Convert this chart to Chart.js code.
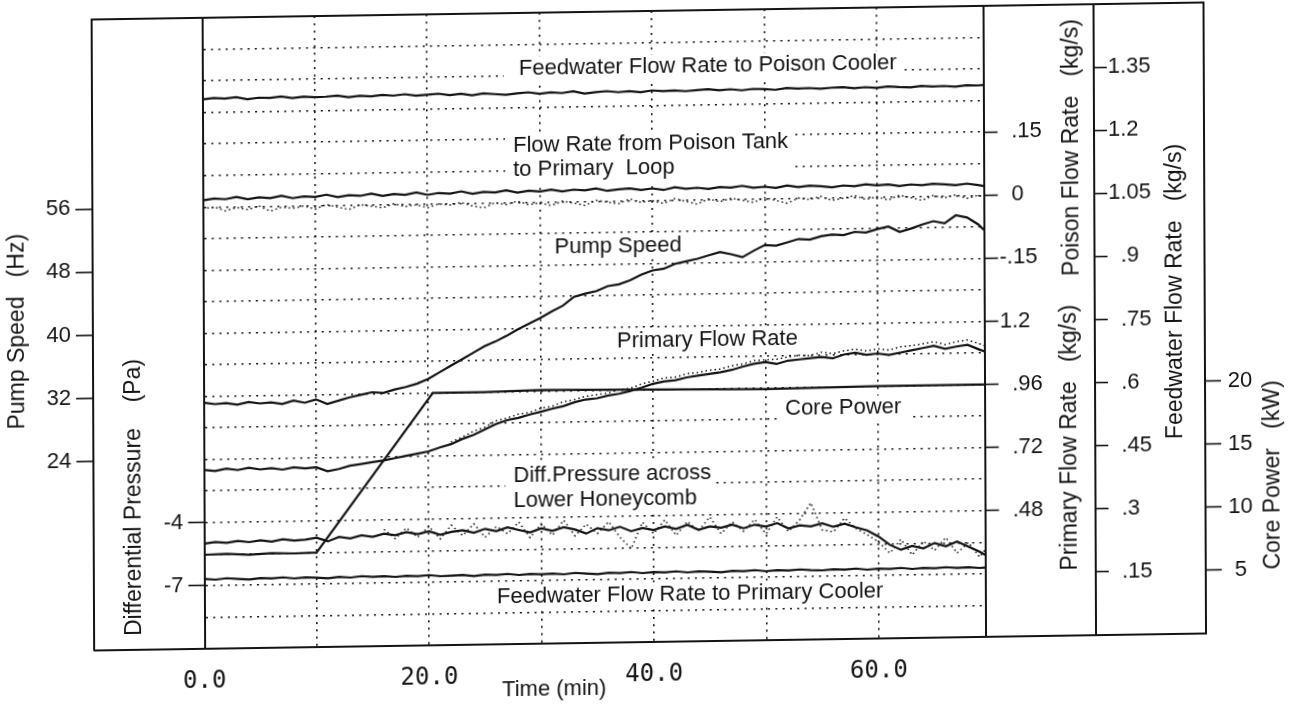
<!DOCTYPE html>
<html>
<head>
<meta charset="utf-8">
<title>Poison injection transient</title>
<script src="https://cdn.jsdelivr.net/npm/chart.js@4.4.1/dist/chart.umd.min.js"></script>
<style>
	html, body { margin: 0; padding: 0; background: #fff; }
	#wrap { position: relative; width: 1298px; height: 704px; overflow: hidden; }
	/* the sheet sits a little crooked */
	#plot { transform-origin: 649px 352px; transform: matrix(1, -0.0153, 0.004, 1, 0, 0); }
</style>
</head>
<body>
<div id="wrap"><canvas id="plot"></canvas></div>
<script>
// time base (min)
const minutes = [0, 1, 2, 3, 4, 5, 6, 7, 8, 9, 10, 11, 12, 13, 14, 15, 16, 17, 18, 19,
	20, 21, 22, 23, 24, 25, 26, 27, 28, 29, 30, 31, 32, 33, 34, 35, 36, 37, 38, 39,
	40, 41, 42, 43, 44, 45, 46, 47, 48, 49, 50, 51, 52, 53, 54, 55, 56, 57, 58, 59,
	60, 61, 62, 63, 64, 65, 66, 67, 68, 69, 69.5];

// feedwater to poison cooler (kg/s)
const feedPoison = [1.306, 1.309, 1.307, 1.310, 1.305, 1.308, 1.307, 1.310, 1.306, 1.309,
	1.307, 1.308, 1.310, 1.306, 1.309, 1.307, 1.310, 1.308, 1.311, 1.307,
	1.309, 1.311, 1.307, 1.310, 1.306, 1.310, 1.308, 1.306, 1.309, 1.311,
	1.307, 1.310, 1.308, 1.312, 1.306, 1.309, 1.311, 1.308, 1.310, 1.307,
	1.311, 1.309, 1.310, 1.308, 1.310, 1.312, 1.309, 1.311, 1.308, 1.311,
	1.310, 1.308, 1.312, 1.310, 1.311, 1.309, 1.311, 1.312, 1.309, 1.311,
	1.309, 1.312, 1.310, 1.309, 1.312, 1.310, 1.311, 1.309, 1.312, 1.311, 1.312];

// poison tank -> primary loop (kg/s), trace and raw samples
const poisonFlow = [0.016, 0.020, 0.018, 0.023, 0.017, 0.021, 0.019, 0.024, 0.018, 0.022,
	0.020, 0.025, 0.019, 0.023, 0.021, 0.026, 0.020, 0.024, 0.022, 0.027,
	0.021, 0.025, 0.023, 0.028, 0.022, 0.026, 0.024, 0.029, 0.023, 0.027,
	0.025, 0.029, 0.024, 0.028, 0.026, 0.030, 0.024, 0.027, 0.029, 0.025,
	0.028, 0.024, 0.030, 0.026, 0.028, 0.025, 0.029, 0.027, 0.031, 0.026,
	0.028, 0.025, 0.030, 0.026, 0.029, 0.027, 0.024, 0.028, 0.026, 0.030,
	0.027, 0.029, 0.025, 0.028, 0.026, 0.029, 0.027, 0.025, 0.028, 0.024, 0.022];
const poisonRaw = [-0.004, 0.000, -0.010, -0.002, -0.008, 0.001, -0.012, -0.003, -0.006, -0.001,
	-0.009, 0.002, -0.005, -0.011, 0.000, -0.004, -0.008, 0.001, -0.006, -0.002,
	-0.010, -0.001, -0.004, 0.002, -0.007, -0.012, 0.000, -0.005, 0.003, -0.006,
	-0.002, -0.009, 0.001, -0.004, -0.010, 0.002, -0.003, -0.007, 0.004, -0.005,
	-0.001, -0.008, 0.003, -0.004, -0.011, 0.001, -0.006, 0.002, -0.003, -0.009,
	0.002, -0.005, -0.012, 0.000, -0.004, 0.003, -0.007, -0.002, 0.004, -0.006,
	0.000, -0.008, 0.003, -0.003, -0.010, 0.001, -0.005, 0.002, -0.007, 0.000, -0.004];

// pump speed (Hz)
const pumpSpeed = [31.2, 31.0, 31.1, 30.9, 31.2, 31.0, 31.1, 30.9, 31.3, 31.0,
	31.4, 30.8, 31.2, 31.6, 31.9, 32.2, 32.1, 32.5, 32.8, 33.2,
	33.8, 34.6, 35.4, 36.2, 37.0, 37.8, 38.4, 39.1, 39.9, 40.6,
	41.3, 42.1, 42.8, 43.9, 44.3, 44.6, 45.2, 45.4, 45.9, 46.6,
	47.1, 47.3, 47.9, 48.2, 48.5, 48.9, 49.3, 49.0, 48.6, 49.4,
	50.1, 50.0, 50.4, 50.8, 50.7, 51.1, 51.3, 51.2, 51.6, 51.5,
	51.9, 52.2, 51.5, 51.9, 52.4, 52.8, 52.5, 53.5, 53.2, 52.3, 51.6];

// primary flow rate (kg/s), trace and raw samples from 22 min
const primaryFlow = [0.680, 0.676, 0.684, 0.678, 0.686, 0.679, 0.683, 0.677, 0.685, 0.680,
	0.684, 0.668, 0.676, 0.688, 0.694, 0.700, 0.706, 0.714, 0.722, 0.730,
	0.738, 0.752, 0.764, 0.783, 0.798, 0.818, 0.838, 0.852, 0.860, 0.872,
	0.882, 0.893, 0.902, 0.916, 0.926, 0.930, 0.940, 0.946, 0.956, 0.968,
	0.982, 0.990, 0.994, 1.004, 1.010, 1.016, 1.022, 1.030, 1.042, 1.052,
	1.058, 1.050, 1.062, 1.066, 1.070, 1.074, 1.068, 1.082, 1.088, 1.080,
	1.084, 1.078, 1.086, 1.094, 1.102, 1.110, 1.098, 1.106, 1.112, 1.094, 1.086];
const primaryRaw = [0.772, 0.790, 0.812, 0.826, 0.850, 0.860, 0.874, 0.880,
	0.896, 0.902, 0.918, 0.926, 0.938, 0.944, 0.950, 0.962, 0.966, 0.982,
	0.992, 1.004, 1.006, 1.018, 1.022, 1.030, 1.034, 1.046, 1.052, 1.064,
	1.066, 1.068, 1.076, 1.082, 1.080, 1.092, 1.086, 1.096, 1.102, 1.094,
	1.102, 1.096, 1.108, 1.112, 1.118, 1.126, 1.114, 1.124, 1.130, 1.116, 1.108];

// core power (kW): hold, ramp, hold
const powerMinutes = [0, 2, 4, 6, 8, 10, 20.4, 25, 30, 40, 50, 60, 69.5];
const corePower = [7.45, 7.5, 7.4, 7.5, 7.45, 7.5, 20.0, 20.0, 20.1, 20.0, 19.9, 20.0, 20.0];

// diff. pressure across lower honeycomb (Pa), trace and raw samples from 16 min
const diffPressure = [-5.00, -4.93, -4.98, -4.90, -4.96, -4.88, -4.95, -4.85, -4.92, -4.88,
	-4.80, -4.98, -4.78, -4.86, -4.72, -4.80, -4.66, -4.74, -4.60, -4.70,
	-4.58, -4.75, -4.62, -4.55, -4.68, -4.50, -4.62, -4.45, -4.58, -4.70,
	-4.52, -4.64, -4.48, -4.60, -4.80, -4.55, -4.66, -4.50, -4.72, -4.58,
	-4.68, -4.52, -4.64, -4.46, -4.70, -4.55, -4.62, -4.48, -4.66, -4.50,
	-4.60, -4.44, -4.70, -4.56, -4.62, -4.48, -4.66, -4.52, -4.70, -4.85,
	-5.15, -5.55, -5.80, -5.62, -5.75, -5.50, -5.66, -5.45, -5.70, -5.95, -6.10];
const diffRaw = [-4.45, -4.90, -4.40, -4.85,
	-4.35, -4.95, -4.30, -4.80, -4.25, -4.90, -4.40, -4.75, -4.20, -4.95,
	-4.30, -4.85, -4.15, -4.90, -4.35, -4.80, -4.25, -5.00, -5.55, -4.30,
	-4.85, -4.20, -4.95, -4.30, -4.75, -4.10, -4.90, -4.35, -4.80, -4.25,
	-4.95, -4.15, -4.85, -4.30, -3.50, -4.80, -4.90, -4.25, -4.75, -5.05,
	-5.40, -5.95, -5.30, -6.05, -5.40, -5.85, -5.25, -6.00, -5.50, -6.20, -5.85];

// feedwater to primary cooler (kg/s)
const feedPrimary = [0.166, 0.164, 0.167, 0.165, 0.163, 0.166, 0.165, 0.167, 0.164, 0.166,
	0.165, 0.163, 0.166, 0.164, 0.167, 0.165, 0.166, 0.164, 0.166, 0.165,
	0.167, 0.164, 0.165, 0.166, 0.163, 0.166, 0.165, 0.167, 0.164, 0.166,
	0.165, 0.166, 0.164, 0.167, 0.165, 0.163, 0.166, 0.165, 0.167, 0.164,
	0.166, 0.165, 0.167, 0.164, 0.166, 0.165, 0.163, 0.166, 0.165, 0.167,
	0.164, 0.166, 0.165, 0.167, 0.165, 0.164, 0.166, 0.165, 0.167, 0.164,
	0.166, 0.165, 0.167, 0.164, 0.166, 0.165, 0.167, 0.165, 0.166, 0.164, 0.165];

// axis ticks
const timeTicks = [0, 10, 20, 30, 40, 50, 60];
const pumpTicks = [24, 32, 40, 48, 56];
const diffTicks = [-7, -4];
const poisonTicks = [-0.15, 0, 0.15];
const primaryTicks = [0.48, 0.72, 0.96, 1.2];
const feedTicks = [0.15, 0.3, 0.45, 0.6, 0.75, 0.9, 1.05, 1.2, 1.35];
const coreTicks = [5, 10, 15, 20];

const INK = '#141414';
const DOTS = [2, 5.3];
const SANS = '"Liberation Sans", Arial, Helvetica, sans-serif';

Chart.defaults.font.family = SANS;
Chart.defaults.font.size = 22;
Chart.defaults.color = INK;

const pts = (xs, ys) => xs.map((x, i) => ({ x: x, y: ys[i] }));

// ".15" style labels, padded so the point lines up under "1.2"
const flowLabel = (v) => {
	let s = String(Math.round(v * 100) / 100).replace(/^(-?)0\./, '$1.');
	return v >= 0 && v < 1 ? '\u2007' + s : s;
};

const only = (vals) => (s) => {
	s.ticks = vals.map((v) => ({ value: v }));
};
const boxWidth = (w) => (s) => {
	s.width = w;
	s.paddingTop = 0;
	s.paddingBottom = 0;
};

const sideAxis = (pos, weight, min, max, ticks, width, tickLen, pad, fmt, cross) => ({
	type: 'linear',
	position: pos,
	weight: weight,
	min: min,
	max: max,
	afterBuildTicks: only(ticks),
	afterFit: boxWidth(width),
	ticks: { callback: fmt, padding: pad, autoSkip: false, color: INK, crossAlign: cross || 'near' },
	grid: { drawOnChartArea: false, tickLength: tickLen, tickWidth: 1.6, tickColor: INK },
	border: { color: INK, width: 2 }
});

// poison flow (upper 9 rows) and primary flow (lower 11 rows) share one column
const poisonAxis = Object.assign(
	sideAxis('right', 1, -0.225, 0.45, poisonTicks, 110.5, 14, 1.5, flowLabel),
	{ stack: 'flow', stackWeight: 9 }
);
const primaryAxis = Object.assign(
	sideAxis('right', 2, 0, 1.32, primaryTicks, 110.5, 14, 1.5, flowLabel),
	{ stack: 'flow', stackWeight: 11 }
);

// free text inside the plot, offsets from the plot's top-left corner
const notes = [
	{ dx: 316.5, dy: 62, lh: 0, padL: 15, padR: 6, lines: ['Feedwater Flow Rate to Poison Cooler'] },
	{ dx: 310.5, dy: 139, lh: 24, padL: 8, padR: 5, lines: ['Flow Rate from Poison Tank', 'to Primary  Loop'] },
	{ dx: 351.5, dy: 240.6, lh: 0, padL: 6, padR: 6, lines: ['Pump Speed'] },
	{ dx: 413.5, dy: 335.5, lh: 0, padL: 6, padR: 6, lines: ['Primary Flow Rate'] },
	{ dx: 581.5, dy: 406, lh: 0, padL: 5, padR: 7, lines: ['Core Power'] },
	{ dx: 309.5, dy: 469, lh: 25, padL: 8, padR: 4, lines: ['Diff.Pressure across', 'Lower Honeycomb'] },
	{ dx: 292.5, dy: 589.7, lh: 0, padL: 6, padR: 6, lines: ['Feedwater Flow Rate to Primary Cooler'] }
];

// rotated axis titles, x measured from the left edge of the named axis box
const titles = [
	{ axis: 'yPump', dx: 18, y: 322, text: 'Pump Speed   (Hz)' },
	{ axis: 'yDiff', dx: 40.5, y: 489.6, text: 'Differential Pressure    (Pa)' },
	{ axis: 'yPoison', dx: 88.3, y: 154, text: 'Poison Flow Rate   (kg/s)' },
	{ axis: 'yPoison', dx: 85.2, y: 444, text: 'Primary Flow Rate   (kg/s)' },
	{ axis: 'yFeed', dx: 80.2, y: 299.5, text: 'Feedwater Flow Rate   (kg/s)' },
	{ axis: 'yCore', dx: 67.5, y: 484.5, text: 'Core Power   (kW)' }
];

const sheet = {
	id: 'sheet',
	beforeDatasetsDraw(chart) {
		const { ctx, chartArea: a } = chart;
		ctx.save();
		ctx.font = '22px ' + SANS;
		ctx.textBaseline = 'alphabetic';
		ctx.textAlign = 'left';
		notes.forEach((n) => {
			const x = a.left + n.dx;
			const y = a.top + n.dy;
			const w = Math.max(...n.lines.map((l) => ctx.measureText(l).width));
			ctx.fillStyle = '#fff';
			ctx.fillRect(x - n.padL, y - 18, w + n.padL + n.padR, (n.lines.length - 1) * n.lh + 25);
			ctx.fillStyle = INK;
			n.lines.forEach((l, i) => ctx.fillText(l, x, y + i * n.lh));
		});
		ctx.restore();
	},
	afterDraw(chart) {
		const { ctx, chartArea: a, scales } = chart;
		ctx.save();
		// top and bottom rules of the whole sheet
		ctx.strokeStyle = INK;
		ctx.lineWidth = 2;
		ctx.beginPath();
		ctx.moveTo(scales.yPump.right, a.top);
		ctx.lineTo(scales.yCore.left, a.top);
		ctx.moveTo(scales.yPump.right, a.bottom);
		ctx.lineTo(scales.yCore.left, a.bottom);
		ctx.stroke();

		ctx.fillStyle = INK;
		ctx.font = '23px ' + SANS;
		ctx.textAlign = 'center';
		ctx.textBaseline = 'middle';
		titles.forEach((t) => {
			ctx.save();
			ctx.translate(scales[t.axis].left + t.dx, t.y);
			ctx.rotate(-Math.PI / 2);
			ctx.fillText(t.text, 0, 0);
			ctx.restore();
		});
		ctx.font = '22px ' + SANS;
		ctx.fillText('Time (min)', 553, 688);
		ctx.restore();
	}
};

const trace = (label, data, axis) => ({
	label: label,
	data: data,
	yAxisID: axis,
	borderColor: INK,
	borderWidth: 2.2,
	pointRadius: 0,
	tension: 0
});
const raw = (label, data, axis) => ({
	label: label,
	data: data,
	yAxisID: axis,
	borderColor: INK,
	borderWidth: 1.5,
	borderDash: [1.5, 3],
	pointRadius: 0,
	tension: 0
});

new Chart(document.getElementById('plot'), {
	type: 'line',
	data: {
		datasets: [
			trace('Feedwater Flow Rate to Poison Cooler', pts(minutes, feedPoison), 'yFeed'),
			raw('Poison flow samples', pts(minutes, poisonRaw), 'yPoison'),
			trace('Flow Rate from Poison Tank to Primary Loop', pts(minutes, poisonFlow), 'yPoison'),
			trace('Pump Speed', pts(minutes, pumpSpeed), 'yPump'),
			raw('Primary flow samples', pts(minutes.slice(22), primaryRaw), 'yPrimary'),
			trace('Primary Flow Rate', pts(minutes, primaryFlow), 'yPrimary'),
			trace('Core Power', pts(powerMinutes, corePower), 'yCore'),
			raw('Diff. pressure samples', pts(minutes.slice(16), diffRaw), 'yDiff'),
			trace('Diff.Pressure across Lower Honeycomb', pts(minutes, diffPressure), 'yDiff'),
			trace('Feedwater Flow Rate to Primary Cooler', pts(minutes, feedPrimary), 'yFeed')
		]
	},
	options: {
		responsive: true,
		maintainAspectRatio: false,
		animation: false,
		events: [],
		layout: { padding: { top: 11, left: 0, right: 0, bottom: 0 } },
		plugins: { legend: { display: false }, tooltip: { enabled: false } },
		scales: {
			x: {
				type: 'linear',
				position: 'bottom',
				min: 0,
				max: 69.5,
				afterBuildTicks: only(timeTicks),
				afterFit: (s) => {
					s.height = 62;
					s.paddingLeft = 0;
					s.paddingRight = 0;
				},
				ticks: {
					callback: (v) => (v % 20 === 0 ? v.toFixed(1) : ''),
					font: { family: '"DejaVu Sans Mono", monospace', size: 24 },
					color: INK,
					padding: 18.6,
					maxRotation: 0,
					autoSkip: false
				},
				grid: {
					color: (c) => (c.tick && c.tick.value > 0 ? INK : 'transparent'),
					lineWidth: 1.6,
					drawTicks: false
				},
				border: { color: INK, width: 2, dash: DOTS }
			},
			yPump: {
				type: 'linear',
				position: 'left',
				weight: 2,
				min: 0,
				max: 80,
				afterFit: boxWidth(93),
				ticks: {
					stepSize: 4,
					autoSkip: false,
					color: INK,
					padding: 5,
					callback: (v) => (pumpTicks.includes(v) ? String(v) : '')
				},
				grid: {
					color: (c) => (c.tick && c.tick.value > 0 && c.tick.value < 80 ? INK : 'transparent'),
					lineWidth: 1.6,
					tickLength: 17,
					tickWidth: 1.6,
					tickColor: (c) => (c.tick && pumpTicks.includes(c.tick.value) ? INK : 'transparent')
				},
				border: { color: INK, width: 2, dash: DOTS }
			},
			yDiff: sideAxis('left', 1, -10, 20, diffTicks, 110.5, 16, 5, (v) => String(v)),
			yPoison: poisonAxis,
			yPrimary: primaryAxis,
			yFeed: sideAxis('right', 3, 0, 1.5, feedTicks, 110, 13, 1, flowLabel),
			yCore: sideAxis('right', 4, 0, 50, coreTicks, 93, 16, 6.8, (v) => String(v), 'center')
		}
	},
	plugins: [sheet]
});
</script>
</body>
</html>
